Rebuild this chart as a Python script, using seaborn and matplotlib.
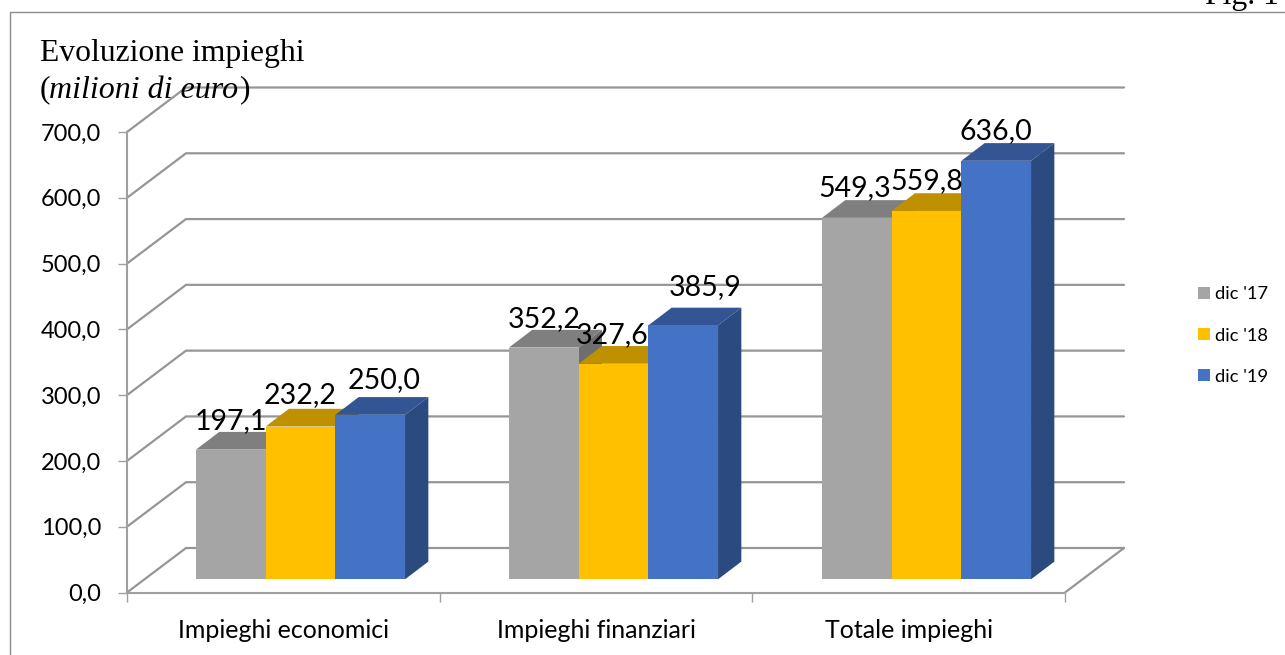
import matplotlib
matplotlib.use("Agg")
import matplotlib.pyplot as plt
import seaborn as sns
import pandas as pd
from matplotlib.patches import Polygon
from matplotlib.lines import Line2D

categories = ["Impieghi economici", "Impieghi finanziari", "Totale impieghi"]
series_names = ["dic '17", "dic '18", "dic '19"]
dic17 = [197.1, 352.2, 549.3]
dic18 = [232.2, 327.6, 559.8]
dic19 = [250.0, 385.9, 636.0]
y_ticks = [0, 100, 200, 300, 400, 500, 600, 700]

front_colors = ["#A5A5A5", "#FFC000", "#4472C4"]
top_colors = ["#7F7F7F", "#BF9000", "#335593"]
side_colors = ["#6E6E6E", "#A67D00", "#2B4A80"]
GRID = "#969696"
W, H = 1285, 655

sns.set_theme(style="white")
plt.rcParams["font.family"] = ["Lato", "DejaVu Sans"]

df = pd.DataFrame({
    "categoria": categories * 3,
    "serie": [s for s in series_names for _ in categories],
    "valore": dic17 + dic18 + dic19,
})

fig = plt.figure(figsize=(W / 100, H / 100), dpi=100, facecolor="white")


def axes_px(left, right, top, bottom):
    return [left / W, 1 - bottom / H, (right - left) / W, (bottom - top) / H]


# Front plane: carries the axes, ticks and the wall / floor lines
ax_front = fig.add_axes(axes_px(127, 1065, 132, 592.5))
ax_front.set_xlim(0, 3)
ax_front.set_ylim(0, 700)
ax_front.patch.set_visible(False)
sx = 938 / 3
sy = 460.5 / 700
wall_dx, wall_dy = 59 / sx, 44.5 / sy
for v in y_ticks:
    ax_front.plot([0, wall_dx, 3 + wall_dx], [v, v + wall_dy, v + wall_dy],
                  color=GRID, lw=1.6, clip_on=False, zorder=1, solid_joinstyle="miter")
ax_front.plot([3, 3 + wall_dx], [0, wall_dy], color=GRID, lw=1.6, clip_on=False, zorder=1)

for s in ["top", "right"]:
    ax_front.spines[s].set_visible(False)
for s in ["left", "bottom"]:
    ax_front.spines[s].set_color("#A0A0A0")
    ax_front.spines[s].set_linewidth(1.5)
ax_front.set_yticks(y_ticks)
ax_front.set_yticklabels([f"{v:.1f}".replace(".", ",") for v in y_ticks], fontsize=17, color="black")
ax_front.set_xticks(range(len(categories) + 1))
ax_front.set_xticklabels([])
ax_front.set_xticks([i + 0.5 for i in range(len(categories))], minor=True)
ax_front.set_xticklabels(categories, minor=True, fontsize=18, color="black")
ax_front.tick_params(axis="y", which="major", left=True, length=6.5, width=1, color="#A0A0A0", pad=12)
ax_front.tick_params(axis="x", which="major", bottom=True, length=6.5, width=1, color="#A0A0A0")
ax_front.tick_params(axis="x", which="minor", bottom=False, length=0, pad=19)

# Bar plane
ax = fig.add_axes(axes_px(144, 1083, 118.7, 579.3))
ax.patch.set_visible(False)
sns.barplot(data=df, x="categoria", y="valore", hue="serie", order=categories,
            hue_order=series_names, palette=front_colors, width=0.668, gap=0,
            saturation=1, legend=False, ax=ax, linewidth=0, zorder=3)
ax.set_xlim(-0.5, 2.5)
ax.set_ylim(0, 700)
ax.axis("off")

bar_sx = 939 / 3
bar_sy = 460.6 / 700
bar_dx, bar_dy = 23.3 / bar_sx, 17.7 / bar_sy

# per-label shifts of the data labels, in pixels
label_shift = [[(0, 29), (0, 31), (14, 35)],
               [(0, 29), (-1, 29), (22, 38)],
               [(-2, 30), (0, 30), (0, 30)]]

for h, cont in enumerate(ax.containers):
    z = 3 + h * 0.1
    for g, bar in enumerate(cont):
        x0, w, v = bar.get_x(), bar.get_width(), bar.get_height()
        x1 = x0 + w
        bar.set_zorder(z + 0.05)
        ax.add_patch(Polygon([(x0, v), (x1, v), (x1 + bar_dx, v + bar_dy), (x0 + bar_dx, v + bar_dy)],
                             closed=True, fc=top_colors[h], ec="none", zorder=z, clip_on=False))
        ax.add_patch(Polygon([(x1, 0), (x1 + bar_dx, bar_dy), (x1 + bar_dx, v + bar_dy), (x1, v)],
                             closed=True, fc=side_colors[h], ec="none", zorder=z, clip_on=False))
        shift = label_shift[g][h]
        ax.annotate(f"{v:.1f}".replace(".", ","), xy=(x0 + w / 2, v), xytext=shift,
                    textcoords="offset pixels", ha="center", va="center",
                    fontsize=20.5, color="black", zorder=10, annotation_clip=False)

handles = [c[0] for c in ax.containers]
leg = fig.legend(handles, series_names, loc="center left",
                 bbox_to_anchor=(1198 / W, 1 - 335.5 / H), frameon=False, fontsize=13.2,
                 handlelength=0.65, handleheight=0.65, handletextpad=0.27,
                 labelspacing=1.38, borderpad=0, borderaxespad=0)
for t in leg.get_texts():
    t.set_color("black")

# Frame around the chart (left and top edges are the ones inside the picture)
fig.add_artist(Line2D([10 / W, 10 / W, 1], [0, 1 - 11.5 / H, 1 - 11.5 / H],
                      transform=fig.transFigure, color="#8C8C8C", lw=1.0))

# Heading
serif = "Liberation Serif"
fig.text(40 / W, 1 - 61 / H, "Evoluzione impieghi", family=serif, fontsize=22.8, color="black", va="baseline")
fig.text(40 / W, 1 - 97.5 / H, "(", family=serif, fontsize=22.8, color="black", va="baseline")
fig.text(49 / W, 1 - 97.5 / H, "milioni di euro", family=serif, style="italic", fontsize=23, color="black", va="baseline", zorder=20)
fig.text(240 / W, 1 - 97.5 / H, ")", family=serif, fontsize=22.8, color="black", va="baseline")
fig.text(1205 / W, 1 - 4 / H, "Fig. 1", family=serif, fontsize=22.8, color="black", va="baseline")

fig.savefig("out.png", dpi=100, facecolor="white")
